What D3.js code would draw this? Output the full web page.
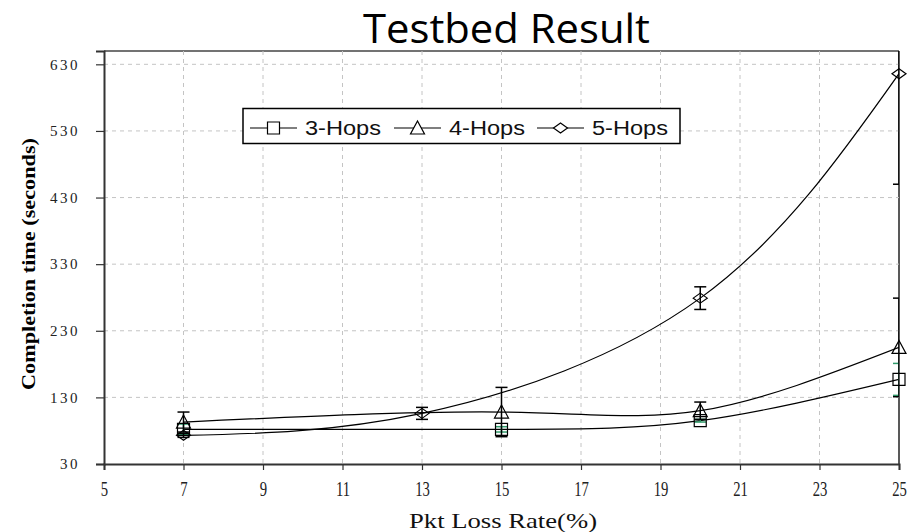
<!DOCTYPE html>
<html>
<head>
<meta charset="utf-8">
<script src="https://cdn.jsdelivr.net/npm/d3@7"></script>
<style>
  html, body { margin: 0; padding: 0; background: #fff; }
  svg { display: block; }
</style>
</head>
<body>
<svg id="chart" width="921" height="532"></svg>
<script>
// Completion time vs. packet loss rate, three hop counts, with error bars
const xTicks = [5, 7, 9, 11, 13, 15, 17, 19, 21, 23, 25];
const yTicks = [30, 130, 230, 330, 430, 530, 630];

const loss3 = [7, 15, 20, 25];
const time3 = [82, 82, 95, 157];
const err3  = [8, 4, 2, 24];

const loss4 = [7, 15, 20, 25];
const time4 = [93, 108, 110, 205];
const err4  = [15, 37, 13, 74];

const loss5 = [7, 13, 20, 25];
const time5 = [73, 106, 279, 616];
const err5  = [3, 9, 17, 166];

const seriesNames = ["3-Hops", "4-Hops", "5-Hops"];
const seriesMarkers = ["square", "triangle", "diamond"];
const errColors = ["#2f9a6a", "#000", "#000"];

const series = [
  { name: seriesNames[0], marker: seriesMarkers[0], errColor: errColors[0], xs: loss3, ys: time3, es: err3 },
  { name: seriesNames[1], marker: seriesMarkers[1], errColor: errColors[1], xs: loss4, ys: time4, es: err4 },
  { name: seriesNames[2], marker: seriesMarkers[2], errColor: errColors[2], xs: loss5, ys: time5, es: err5 }
];

const svg = d3.select("#chart");
const plotLeft = 104, plotRight = 899, plotTop = 51, plotBottom = 464;

const x = d3.scaleLinear().domain([5, 25]).range([plotLeft, plotRight]);
const y = d3.scaleLinear().domain([30, 650]).range([plotBottom, plotTop]);

// title
svg.append("text")
  .attr("x", 363).attr("y", 43)
  .attr("textLength", 287).attr("lengthAdjust", "spacingAndGlyphs")
  .style("font-family", "'Open Sans', sans-serif")
  .style("font-size", "40px")
  .attr("fill", "#000")
  .text("Testbed Result");

// top and right frame
svg.append("line")
  .attr("x1", plotLeft).attr("x2", plotRight).attr("y1", plotTop).attr("y2", plotTop)
  .attr("stroke", "#444").attr("stroke-width", 1.5);
svg.append("line")
  .attr("x1", plotRight).attr("x2", plotRight).attr("y1", plotTop).attr("y2", plotBottom)
  .attr("stroke", "#222").attr("stroke-width", 1.5);

// grid
const grid = svg.append("g");
grid.selectAll(".gx").data(xTicks.filter(d => d > 5 && d < 25)).join("line")
  .attr("x1", d => x(d)).attr("x2", d => x(d))
  .attr("y1", plotTop).attr("y2", plotBottom)
  .attr("stroke", "#c4c4c4").attr("stroke-dasharray", "4,4");
grid.selectAll(".gy").data(yTicks.filter(d => d > 30)).join("line")
  .attr("x1", plotLeft).attr("x2", plotRight)
  .attr("y1", d => y(d)).attr("y2", d => y(d))
  .attr("stroke", "#c4c4c4").attr("stroke-dasharray", "4,4");

// axes
const yAxis = svg.append("g")
  .attr("transform", `translate(${plotLeft},0)`)
  .call(d3.axisLeft(y).tickValues(yTicks).tickSize(8).tickPadding(16).tickFormat(d3.format("d")));
yAxis.select(".domain").attr("stroke", "#333").attr("stroke-width", 2);
yAxis.selectAll(".tick line").attr("stroke", "#333").attr("stroke-width", 1.2);
yAxis.selectAll(".tick text")
  .style("font-family", "'Liberation Serif', serif")
  .style("font-size", "15px")
  .style("letter-spacing", "2.5px")
  .attr("fill", "#222");

const xAxis = svg.append("g")
  .attr("transform", `translate(0,${plotBottom})`)
  .call(d3.axisBottom(x).tickValues(xTicks).tickSize(6).tickFormat(d3.format("d")));
xAxis.select(".domain").attr("stroke", "#333").attr("stroke-width", 2);
xAxis.selectAll(".tick line").attr("stroke", "#333").attr("stroke-width", 1.2);
xAxis.selectAll(".tick text")
  .attr("y", 0).attr("dy", 0)
  .attr("transform", "translate(0,32) scale(0.7,1)")
  .style("font-family", "'Liberation Serif', serif")
  .style("font-size", "21px")
  .attr("fill", "#222");

// axis titles
svg.append("text")
  .attr("transform", "translate(35,264) rotate(-90)")
  .attr("text-anchor", "middle")
  .attr("textLength", 252).attr("lengthAdjust", "spacingAndGlyphs")
  .style("font-family", "'Liberation Serif', serif")
  .style("font-weight", "bold")
  .style("font-size", "19px")
  .text("Completion time (seconds)");

svg.append("text")
  .attr("x", 409).attr("y", 528)
  .attr("textLength", 188).attr("lengthAdjust", "spacingAndGlyphs")
  .style("font-family", "'Liberation Serif', serif")
  .style("font-size", "22px")
  .attr("fill", "#111")
  .text("Pkt Loss Rate(%)");

// plot clip
svg.append("clipPath").attr("id", "plot-clip")
  .append("rect").attr("x", plotLeft).attr("y", plotTop)
  .attr("width", plotRight - plotLeft).attr("height", plotBottom - plotTop);

const plot = svg.append("g").attr("clip-path", "url(#plot-clip)");

function markerPath(kind, cx, cy) {
  if (kind === "square") {
    return `M${cx - 6},${cy - 6}h12v12h-12Z`;
  } else if (kind === "triangle") {
    return `M${cx},${cy - 7}L${cx + 7},${cy + 6}L${cx - 7},${cy + 6}Z`;
  }
  return `M${cx - 7},${cy}L${cx},${cy - 5}L${cx + 7},${cy}L${cx},${cy + 5}Z`;
}

const line = d3.line().curve(d3.curveNatural).x(d => x(d[0])).y(d => y(d[1]));

series.forEach(s => {
  const pts = s.xs.map((v, i) => [v, s.ys[i], s.es[i]]);
  plot.append("path")
    .attr("d", line(pts))
    .attr("fill", "none").attr("stroke", "#000").attr("stroke-width", 1.2);
});

// error bars
series.forEach(s => {
  const pts = s.xs.map((v, i) => [v, s.ys[i], s.es[i]]);
  const g = plot.append("g").attr("stroke", s.errColor).attr("stroke-width", 1.5);
  pts.forEach(p => {
    const px = x(p[0]);
    g.append("line").attr("x1", px).attr("x2", px).attr("y1", y(p[1] - p[2])).attr("y2", y(p[1] + p[2]));
    g.append("line").attr("x1", px - 6).attr("x2", px + 6).attr("y1", y(p[1] - p[2])).attr("y2", y(p[1] - p[2]));
    g.append("line").attr("x1", px - 6).attr("x2", px + 6).attr("y1", y(p[1] + p[2])).attr("y2", y(p[1] + p[2]));
  });
});

// markers
series.forEach(s => {
  s.xs.forEach((v, i) => {
    svg.append("path")
      .attr("d", markerPath(s.marker, x(v), y(s.ys[i])))
      .attr("fill", "none").attr("stroke", "#000").attr("stroke-width", 1.2);
  });
});

// legend
const legend = svg.append("g");
legend.append("rect")
  .attr("x", 243).attr("y", 108.5).attr("width", 437).attr("height", 35)
  .attr("fill", "#fff").attr("stroke", "#000").attr("stroke-width", 1.5);
const legendX = [250, 394, 537];
series.forEach((s, i) => {
  const lx = legendX[i];
  legend.append("line")
    .attr("x1", lx).attr("x2", lx + 47).attr("y1", 128).attr("y2", 128)
    .attr("stroke", "#000").attr("stroke-width", 1.2);
  legend.append("path")
    .attr("d", markerPath(s.marker, lx + 23.5, 128))
    .attr("fill", "#fff").attr("stroke", "#000").attr("stroke-width", 1.2);
  legend.append("text")
    .attr("x", lx + 55).attr("y", 135)
    .attr("textLength", 76).attr("lengthAdjust", "spacingAndGlyphs")
    .style("font-family", "'Liberation Sans', Arial, sans-serif")
    .style("font-size", "20px")
    .attr("fill", "#111")
    .text(s.name);
});
</script>
</body>
</html>
